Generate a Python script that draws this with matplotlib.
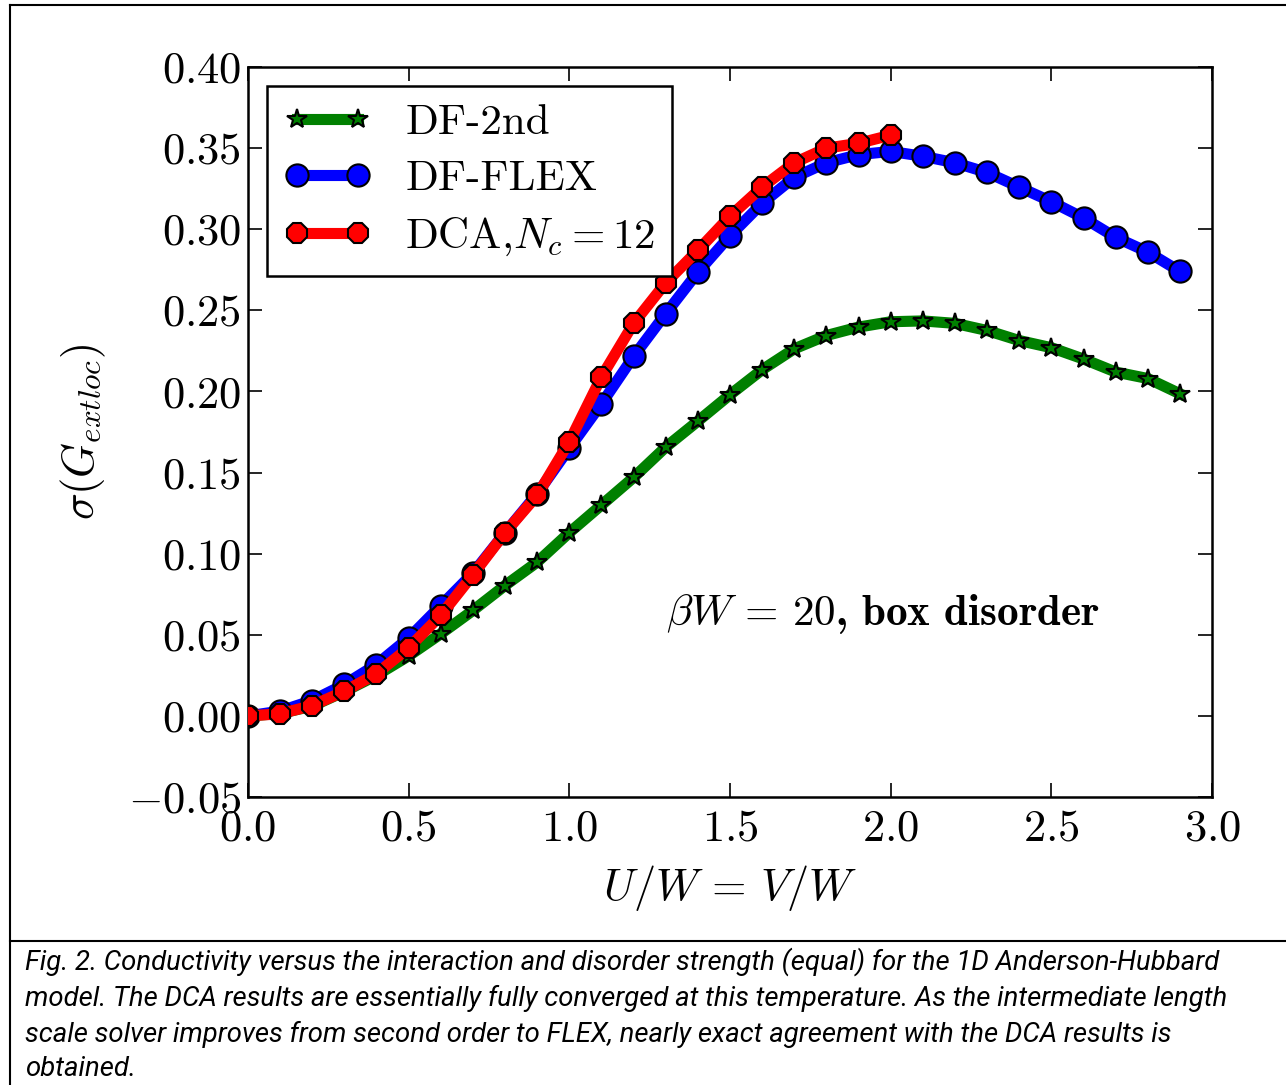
import numpy as np
import matplotlib
matplotlib.use("Agg")
import matplotlib.pyplot as plt
from matplotlib.lines import Line2D

plt.rcParams['mathtext.fontset'] = 'cm'
plt.rcParams['font.family'] = ['cmr10', 'DejaVu Serif']
plt.rcParams['axes.formatter.use_mathtext'] = True

# U/W = V/W values
x_df = [0.0, 0.1, 0.2, 0.3, 0.4, 0.5, 0.6, 0.7, 0.8, 0.9, 1.0, 1.1, 1.2, 1.3, 1.4,
        1.5, 1.6, 1.7, 1.8, 1.9, 2.0, 2.1, 2.2, 2.3, 2.4, 2.5, 2.6, 2.7, 2.8, 2.9]
x_dca = [0.0, 0.1, 0.2, 0.3, 0.4, 0.5, 0.6, 0.7, 0.8, 0.9, 1.0,
         1.1, 1.2, 1.3, 1.4, 1.5, 1.6, 1.7, 1.8, 1.9, 2.0]

df_2nd = [0.0, 0.0015, 0.006, 0.015, 0.025, 0.037, 0.0506, 0.065, 0.0804, 0.0948,
          0.113, 0.130, 0.147, 0.1657, 0.1817, 0.198, 0.2134, 0.2263, 0.2345, 0.2397,
          0.2430, 0.2435, 0.242, 0.2376, 0.2314, 0.227, 0.220, 0.212, 0.208, 0.1986]
df_flex = [0.0, 0.003, 0.0095, 0.0194, 0.0317, 0.048, 0.068, 0.088, 0.113, 0.137,
           0.165, 0.1924, 0.2216, 0.248, 0.2735, 0.296, 0.316, 0.332, 0.341, 0.346,
           0.348, 0.345, 0.341, 0.335, 0.326, 0.317, 0.307, 0.295, 0.286, 0.274]
dca = [0.0, 0.0013, 0.0064, 0.0152, 0.026, 0.042, 0.062, 0.087, 0.113, 0.136,
       0.169, 0.209, 0.242, 0.267, 0.287, 0.308, 0.326, 0.341, 0.350, 0.353, 0.358]

xticks = [0.0, 0.5, 1.0, 1.5, 2.0, 2.5, 3.0]
yticks = [-0.05, 0.0, 0.05, 0.10, 0.15, 0.20, 0.25, 0.30, 0.35, 0.40]

caption = ("Fig. 2. Conductivity versus the interaction and disorder strength (equal) for the 1D Anderson-Hubbard\n"
           "model. The DCA results are essentially fully converged at this temperature. As the intermediate length\n"
           "scale solver improves from second order to FLEX, nearly exact agreement with the DCA results is\n"
           "obtained.")

fig = plt.figure(figsize=(12.86, 10.85), dpi=100)
ax = fig.add_axes([0.1928, 0.2654, 0.7497, 0.6728])

ax.plot(x_df, df_2nd, color='green', lw=8, marker='*', ms=15, mfc='green',
        mec='black', mew=1.5, label='DF-2nd', zorder=3)
ax.plot(x_df, df_flex, color='blue', lw=8, marker='o', ms=16, mfc='blue',
        mec='black', mew=1.5, label='DF-FLEX', zorder=4)
ax.plot(x_dca, dca, color='red', lw=8, marker='8', ms=15, mfc='red',
        mec='black', mew=1.5, label=r'DCA,$N_c = 12$', zorder=5)

ax.set_xlim(0, 3.0)
ax.set_ylim(-0.05, 0.40)
ax.set_xticks(xticks, labels=[f'${t:.1f}$' for t in xticks])
ax.set_yticks(yticks, labels=[f'${t:.2f}$' for t in yticks])
ax.tick_params(direction='in', length=10, width=1.2, top=True, right=True,
               labelsize=32)
ax.tick_params(axis='x', pad=9)
ax.tick_params(axis='y', pad=5)
for s in ax.spines.values():
    s.set_linewidth(1.8)

ax.set_xlabel(r'$U/W\,=\,V/W$', fontsize=32, labelpad=10)
ax.set_ylabel(r'$\sigma(G_{extloc})$', fontsize=32, labelpad=14)

ax.text(1.3, 0.063, r'$\beta W\,=\,20$, box disorder', family='cmb10',
        fontsize=31, va='center', ha='left')

leg = ax.legend(loc='upper left', fontsize=31, numpoints=2, handlelength=2.0,
                handletextpad=0.8, labelspacing=0.42, borderpad=0.4,
                borderaxespad=0.45, fancybox=False, framealpha=1)
leg.get_frame().set_edgecolor('black')
leg.get_frame().set_linewidth(1.8)

# page frame lines around figure and caption
fig.add_artist(Line2D([10 / 1286, 1286 / 1286], [1 - 5 / 1085, 1 - 5 / 1085],
                      transform=fig.transFigure, color='black', lw=1.5))
fig.add_artist(Line2D([10 / 1286, 10 / 1286], [0, 1 - 5 / 1085],
                      transform=fig.transFigure, color='black', lw=1.5))
fig.add_artist(Line2D([10 / 1286, 1286 / 1286], [1 - 941 / 1085, 1 - 941 / 1085],
                      transform=fig.transFigure, color='black', lw=1.5))

fig.text(25 / 1286, 1 - 947 / 1085, caption, ha='left', va='top',
         family=['Roboto', 'Open Sans'], style='italic',
         fontsize=19.8, linespacing=1.42)

fig.savefig('out.png', dpi=100)
